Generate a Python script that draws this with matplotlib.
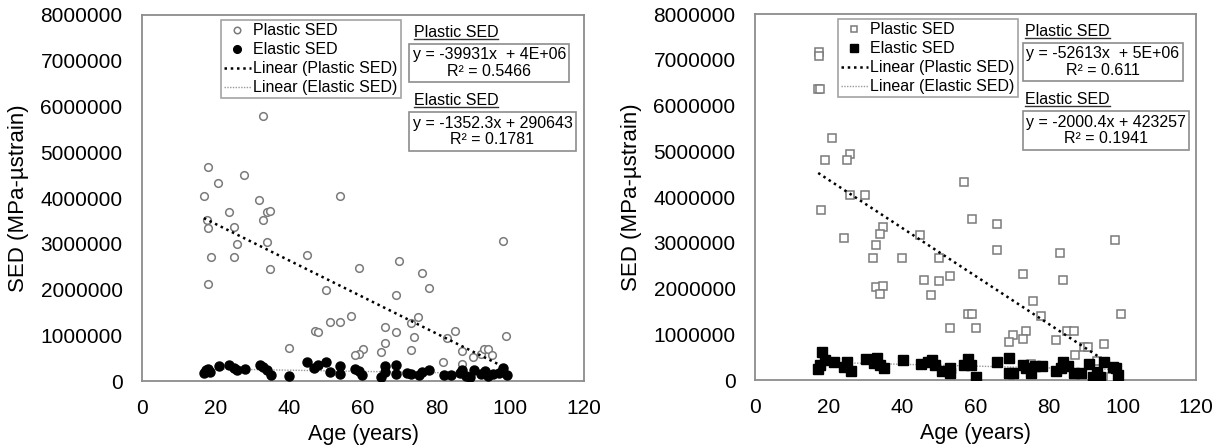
import matplotlib.pyplot as plt
import numpy as np

plt.rcParams['font.family'] = ['Liberation Sans', 'DejaVu Sans']

# left panel (circles)
left_plastic_age = [32.8, 17.8, 27.8, 20.7, 16.8, 53.8, 31.9, 23.7, 33.9, 34.8, 32.8, 17.7, 25.0,
                    17.8, 33.9, 25.8, 18.8, 24.9, 34.8, 17.8, 44.9, 69.9, 58.8, 75.9, 78.0, 49.9,
                    68.9, 98.0, 98.9, 74.9, 72.9, 56.8, 51.0, 53.8, 47.0, 47.9, 65.9, 69.0, 73.9,
                    85.0, 82.9, 40.0, 60.0, 58.8, 57.8, 66.0, 65.0, 73.0, 87.0, 81.8, 87.0, 89.9,
                    92.0, 92.9, 94.0, 95.0]
left_plastic_sed = [5.79, 4.67, 4.51, 4.32, 4.05, 4.05, 3.95, 3.69, 3.69, 3.72, 3.52, 3.53, 3.36,
                    3.35, 3.03, 2.99, 2.70, 2.72, 2.45, 2.13, 2.75, 2.62, 2.48, 2.37, 2.03, 1.98,
                    1.89, 3.06, 0.98, 1.40, 1.26, 1.41, 1.30, 1.30, 1.10, 1.08, 1.18, 1.07, 0.97,
                    1.10, 0.95, 0.73, 0.69, 0.60, 0.57, 0.83, 0.63, 0.67, 0.65, 0.42, 0.37, 0.53,
                    0.59, 0.71, 0.71, 0.57]
left_elastic_age = [16.8, 17.4, 18.0, 18.5, 21.0, 23.7, 25.0, 25.8, 28.0, 32.0, 32.9, 33.9, 34.9,
                    40.0, 44.9, 46.8, 47.9, 50.0, 51.0, 53.8, 53.8, 57.8, 58.8, 59.8, 64.8, 66.0,
                    66.0, 69.0, 69.0, 71.9, 73.0, 75.2, 76.0, 78.0, 82.0, 84.0, 86.2, 87.0, 88.0,
                    89.1, 90.0, 92.0, 93.0, 94.0, 95.2, 97.0, 98.1, 99.1]
left_elastic_sed = [0.17, 0.23, 0.26, 0.20, 0.32, 0.34, 0.29, 0.24, 0.26, 0.36, 0.31, 0.24, 0.14,
                    0.12, 0.42, 0.29, 0.36, 0.42, 0.19, 0.33, 0.15, 0.26, 0.21, 0.13, 0.08, 0.32,
                    0.20, 0.36, 0.15, 0.17, 0.15, 0.13, 0.19, 0.23, 0.14, 0.14, 0.17, 0.23, 0.12,
                    0.08, 0.25, 0.15, 0.21, 0.10, 0.16, 0.18, 0.28, 0.14]

# right panel (squares)
right_plastic_age = [17.5, 17.5, 17.2, 17.8, 20.9, 19.0, 25.9, 25.0, 56.9, 25.9, 29.9, 18.0, 24.1,
                     34.9, 34.1, 32.9, 32.1, 40.0, 45.0, 50.0, 59.0, 65.9, 65.9, 97.9, 82.9, 83.8,
                     72.9, 46.0, 50.0, 53.0, 32.9, 34.9, 34.1, 47.8, 75.7, 77.9, 99.5, 58.0, 59.0,
                     53.0, 60.0, 84.9, 86.9, 73.8, 70.2, 69.2, 72.9, 81.8, 89.4, 90.5, 95.0, 87.1,
                     93.0, 75.1, 96.9]
right_plastic_sed = [7.18, 7.09, 6.35, 6.35, 5.30, 4.81, 4.95, 4.81, 4.33, 4.04, 4.04, 3.72, 3.11,
                     3.35, 3.20, 2.94, 2.67, 2.67, 3.17, 2.67, 3.53, 3.41, 2.84, 3.07, 2.78, 2.19,
                     2.32, 2.18, 2.16, 2.28, 2.04, 2.05, 1.89, 1.86, 1.73, 1.39, 1.44, 1.45, 1.45,
                     1.14, 1.14, 1.08, 1.08, 1.08, 0.98, 0.82, 0.90, 0.87, 0.73, 0.73, 0.78, 0.55,
                     0.42, 0.36, 0.06]
right_elastic_age = [18.1, 17.2, 17.8, 19.1, 21.4, 25.0, 24.1, 26.1, 30.2, 33.1, 32.5, 34.1, 35.2,
                     40.2, 45.1, 47.2, 48.1, 49.0, 51.0, 53.0, 53.0, 58.0, 57.0, 58.9, 60.2, 65.9,
                     69.1, 69.1, 70.3, 72.9, 73.8, 75.1, 76.2, 78.0, 81.9, 83.9, 83.3, 85.1, 86.9,
                     88.7, 90.9, 92.1, 93.0, 93.9, 95.0, 97.4, 98.3, 98.7, 93.0]
right_elastic_sed = [0.62, 0.23, 0.33, 0.44, 0.40, 0.40, 0.29, 0.20, 0.46, 0.49, 0.38, 0.33, 0.27,
                     0.44, 0.34, 0.40, 0.44, 0.33, 0.20, 0.27, 0.16, 0.46, 0.33, 0.32, 0.07, 0.40,
                     0.48, 0.15, 0.15, 0.33, 0.26, 0.15, 0.30, 0.30, 0.20, 0.40, 0.26, 0.30, 0.15,
                     0.16, 0.35, 0.07, 0.18, 0.06, 0.39, 0.29, 0.27, 0.11, 0.07]

# trendline coefficients (slope, intercept)
left_plastic_fit = (-39931, 4.23e6)
left_elastic_fit = (-1352.3, 290643)
right_plastic_fit = (-52613, 5.43e6)
right_elastic_fit = (-2000.4, 423257)

left_eq = ['y = -39931x  + 4E+06\nR² = 0.5466', 'y = -1352.3x + 290643\nR² = 0.1781']
right_eq = ['y = -52613x  + 5E+06\nR² = 0.611', 'y = -2000.4x + 423257\nR² = 0.1941']

GRAY = '#8c8c8c'

fig = plt.figure(figsize=(12.25, 4.48), dpi=100)
ax1 = fig.add_axes([142 / 1225, 67 / 448, 442 / 1225, 366 / 448])
ax2 = fig.add_axes([755 / 1225, 68 / 448, 441 / 1225, 366 / 448])


def panel(ax, p_age, p_sed, e_age, e_sed, p_fit, e_fit, marker, eqs, leg_x, head_x, box_x):
    p_age = np.array(p_age)
    e_age = np.array(e_age)
    ax.plot(p_age, np.array(p_sed) * 1e6, ls='none', marker=marker, ms=5.5,
            mfc='white', mec='#7a7a7a', mew=1.1, label='Plastic SED', zorder=3)
    ax.plot(e_age, np.array(e_sed) * 1e6, ls='none', marker=marker, ms=6.5,
            mfc='black', mec='black', label='Elastic SED', zorder=4)
    xs = np.array([p_age.min(), p_age.max()])
    ax.plot(xs, p_fit[0] * xs + p_fit[1], ls=(0, (1, 1.5)), color='black', lw=1.8,
            label='Linear (Plastic SED)', zorder=5)
    xs = np.array([e_age.min(), e_age.max()])
    ax.plot(xs, e_fit[0] * xs + e_fit[1], ls=(0, (1, 1)), color='#999999', lw=1.0,
            label='Linear (Elastic SED)', zorder=2)

    ax.set_xlim(0, 120)
    ax.set_ylim(0, 8000000)
    ax.set_xticks(range(0, 121, 20))
    ax.set_yticks(range(0, 8000001, 1000000))
    ax.tick_params(length=0, labelsize=15)
    ax.tick_params(axis='x', pad=13)
    ax.tick_params(axis='y', pad=14)
    ax.yaxis.set_major_formatter(plt.FuncFormatter(lambda v, p: f'{int(v)}'))
    for s in ax.spines.values():
        s.set_color(GRAY)
        s.set_linewidth(1.3)
    ax.set_xlabel('Age (years)', fontsize=15.5, labelpad=4)
    ax.set_ylabel('SED (MPa-µstrain)', fontsize=16, labelpad=8)

    leg = ax.legend(loc='upper left', bbox_to_anchor=(leg_x, 0.986), borderaxespad=0,
                    fontsize=11.5, frameon=True, fancybox=False, handlelength=1.7,
                    handletextpad=0.15, labelspacing=0.25, borderpad=0.2, markerscale=0.85)
    leg.get_frame().set_edgecolor(GRAY)
    leg.get_frame().set_linewidth(1.2)

    heads = []
    heads.append(ax.text(head_x, 0.972, 'Plastic SED', transform=ax.transAxes,
                         fontsize=11.5, ha='left', va='top'))
    ax.text(box_x, 0.912, eqs[0], transform=ax.transAxes, fontsize=11.5, ha='left', va='top',
            multialignment='center', linespacing=1.15,
            bbox=dict(boxstyle='square,pad=0.2', fc='white', ec=GRAY, lw=1.2))
    heads.append(ax.text(head_x, 0.786, 'Elastic SED', transform=ax.transAxes,
                         fontsize=11.5, ha='left', va='top'))
    ax.text(box_x, 0.725, eqs[1], transform=ax.transAxes, fontsize=11.5, ha='left', va='top',
            multialignment='center', linespacing=1.15,
            bbox=dict(boxstyle='square,pad=0.2', fc='white', ec=GRAY, lw=1.2))
    return heads


h1 = panel(ax1, left_plastic_age, left_plastic_sed, left_elastic_age, left_elastic_sed,
           left_plastic_fit, left_elastic_fit, 'o', left_eq, 0.178, 0.615, 0.612)
h2 = panel(ax2, right_plastic_age, right_plastic_sed, right_elastic_age, right_elastic_sed,
           right_plastic_fit, right_elastic_fit, 's', right_eq, 0.1875, 0.612, 0.615)

# underline the headings
fig.canvas.draw()
inv = fig.transFigure.inverted()
for t in h1 + h2:
    bb = t.get_window_extent()
    (x0, y0), (x1, y1) = inv.transform([(bb.x0, bb.y0 + 1), (bb.x1, bb.y0 + 1)])
    fig.add_artist(plt.Line2D([x0, x1], [y0, y1], color='#333333', lw=1.0))

fig.savefig('out.png', dpi=100)
